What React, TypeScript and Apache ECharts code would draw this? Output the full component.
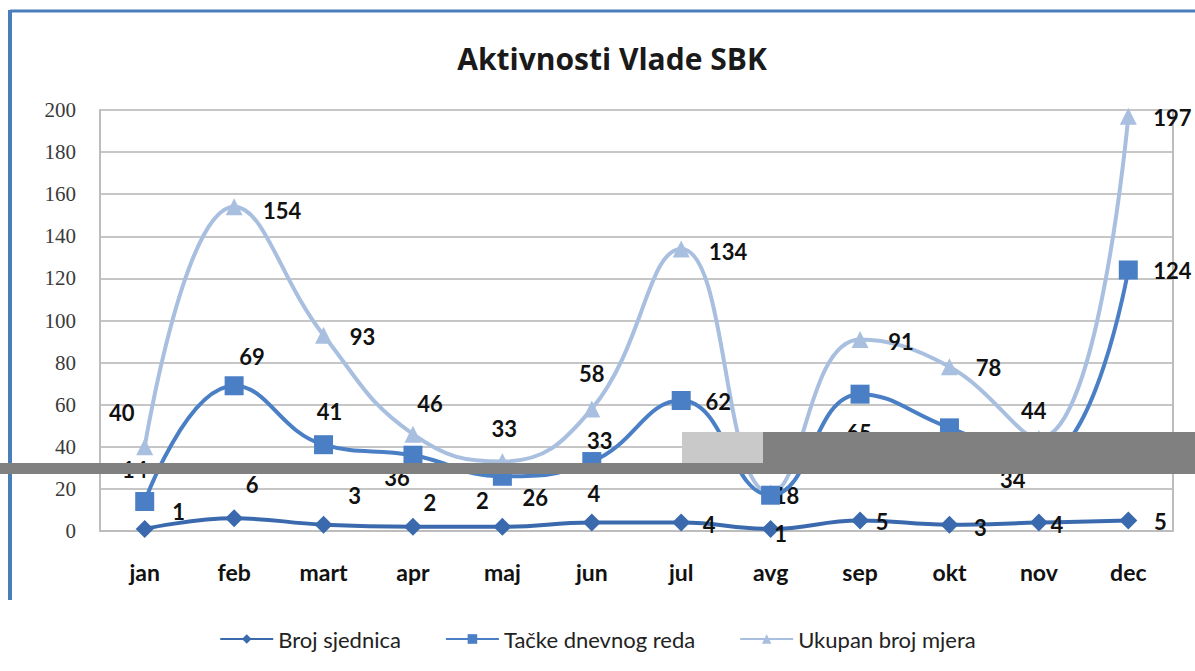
import React, { useEffect, useRef } from "react";
import * as echarts from "echarts";

const titleText = "Aktivnosti Vlade SBK";
const months = ["jan", "feb", "mart", "apr", "maj", "jun", "jul", "avg", "sep", "okt", "nov", "dec"];
const brojSjednica = [1, 6, 3, 2, 2, 4, 4, 1, 5, 3, 4, 5];
const tackeDnevnogReda = [14, 69, 41, 36, 26, 33, 62, 17, 65, 49, 34, 124];
const ukupanBrojMjera = [40, 154, 93, 46, 33, 58, 134, 18, 91, 78, 44, 197];
const yTicks = { min: 0, max: 200, interval: 20 };

// label offsets (styling only)
const brojOffsets = [[34, -17], [18, -34], [31, -29], [17, -24], [-20, -26], [2, -29], [28, 2], [10, 5], [22, 1], [31, 3], [18, 2], [32, 1]];
const tackeOffsets = [[-10, -32], [18, -29], [6, -33], [-16, 22], [33, 21], [8, -21], [37, 1], [-8, -36], [-1, 38], [0, 25], [-26, 20], [44, 1]];
const ukupanOffsets = [[-23, -34], [48, 4], [39, 1], [17, -31], [2, -33], [0, -35], [47, 3], [16, 2], [41, 2], [39, 1], [-5, -28], [44, 1]];

const labelFont = {
  fontFamily: "Lato",
  fontWeight: "bold" as const,
  fontSize: 22,
  color: "#111",
};

function withLabels(values: number[], offsets: number[][]) {
  return values.map((v, i) => ({
    value: v,
    label: {
      show: true,
      position: "inside",
      offset: offsets[i],
      ...labelFont,
    },
  }));
}

export default function App() {
  const ref = useRef<HTMLDivElement>(null);
  useEffect(() => {
    if (!ref.current) return;
    const chart = echarts.init(ref.current, undefined, { renderer: "svg" });
    chart.setOption({
      animation: false,
      backgroundColor: "#ffffff",
      title: {
        text: titleText,
        left: 607,
        top: 38,
        textAlign: "center",
        textStyle: { fontFamily: "Open Sans", fontWeight: "bold", fontSize: 30, color: "#1a1a1a" },
      },
      legend: {
        bottom: 16,
        left: "center",
        itemWidth: 53,
        itemHeight: 12,
        itemGap: 44,
        textStyle: { fontFamily: "Lato", fontSize: 22, color: "#222" },
        data: ["Broj sjednica", "Tačke dnevnog reda", "Ukupan broj mjera"],
      },
      grid: { left: 100, right: 22, top: 110, bottom: 140 },
      xAxis: {
        type: "category",
        data: months,
        boundaryGap: true,
        axisLine: { lineStyle: { color: "#bdbdbd", width: 2 } },
        axisTick: { show: false },
        axisLabel: { margin: 29, fontFamily: "Lato", fontWeight: "bold", fontSize: 23, color: "#111" },
      },
      yAxis: {
        type: "value",
        min: yTicks.min,
        max: yTicks.max,
        interval: yTicks.interval,
        axisLine: { show: true, lineStyle: { color: "#bdbdbd", width: 2 } },
        axisTick: { show: false },
        splitLine: { lineStyle: { color: "#c6c6c6", width: 2 } },
        axisLabel: { margin: 24, fontFamily: "Liberation Serif", fontSize: 21, color: "#3a3a3a" },
      },
      series: [
        {
          name: "Ukupan broj mjera",
          type: "line",
          smooth: 0.45,
          data: withLabels(ukupanBrojMjera, ukupanOffsets),
          symbol: "triangle",
          symbolSize: 17,
          itemStyle: { color: "#a9bfe0" },
          lineStyle: { color: "#a9bfe0", width: 4 },
          z: 2,
        },
        {
          name: "Tačke dnevnog reda",
          type: "line",
          smooth: 0.45,
          data: withLabels(tackeDnevnogReda, tackeOffsets),
          symbol: "rect",
          symbolSize: 19,
          itemStyle: { color: "#4a7fc5" },
          lineStyle: { color: "#4a7fc5", width: 4 },
          z: 3,
        },
        {
          name: "Broj sjednica",
          type: "line",
          smooth: 0.45,
          data: withLabels(brojSjednica, brojOffsets),
          symbol: "diamond",
          symbolSize: 18,
          itemStyle: { color: "#3a6aad" },
          lineStyle: { color: "#3a6aad", width: 4 },
          z: 4,
        },
      ],
      graphic: [
        { type: "line", shape: { x1: 10, y1: 11, x2: 1195, y2: 11 }, style: { stroke: "#4a7ebb", lineWidth: 3 }, z: 100 },
        { type: "line", shape: { x1: 10, y1: 10, x2: 10, y2: 600 }, style: { stroke: "#4a7ebb", lineWidth: 4 }, z: 100 },
        { type: "line", shape: { x1: 1173, y1: 110, x2: 1173, y2: 531 }, style: { stroke: "#bdbdbd", lineWidth: 2 }, z: 1 },
        { type: "rect", shape: { x: 0, y: 463, width: 1195, height: 11 }, style: { fill: "#808080" }, z: 200 },
        { type: "rect", shape: { x: 763, y: 432, width: 432, height: 42 }, style: { fill: "#808080" }, z: 200 },
        { type: "rect", shape: { x: 682, y: 432, width: 81, height: 31 }, style: { fill: "#c9c9c9" }, z: 199 },
      ],
    });
    return () => chart.dispose();
  }, []);
  return <div ref={ref} style={{ position: "fixed", left: 0, top: 0, width: 1195, height: 671 }} />;
}
